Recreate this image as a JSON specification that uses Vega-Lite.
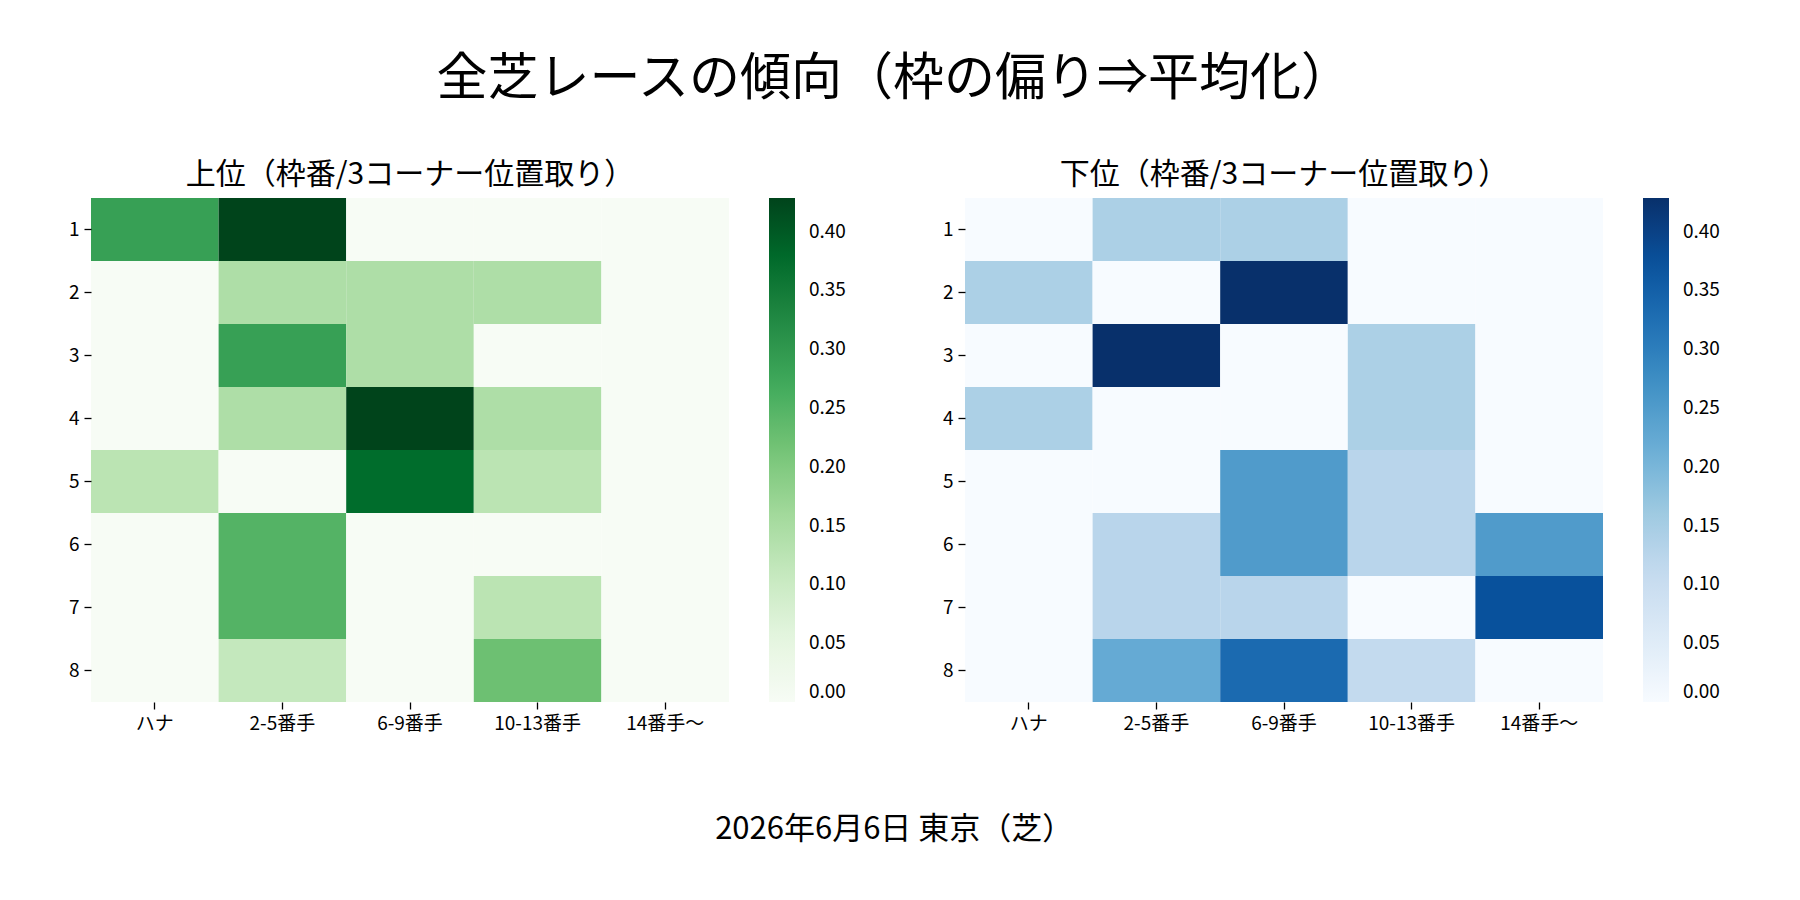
{
  "$schema": "https://vega.github.io/schema/vega-lite/v6.json",
  "background": "white",
  "padding": {"left": 68, "top": 54, "right": 10, "bottom": 10},
  "config": {
    "font": "Noto Sans CJK JP",
    "view": {"stroke": null},
    "title": {"color": "#000", "fontWeight": "normal", "font": "Noto Sans CJK JP"},
    "axis": {"labelFontSize": 19, "labelColor": "#000", "tickColor": "#000", "tickSize": 7, "tickWidth": 1.3, "domain": false, "labelPadding": 5, "title": null, "labelFont": "Noto Sans CJK JP"},
    "legend": {"labelFontSize": 19, "labelColor": "#000", "labelFont": "Noto Sans CJK JP"}
  },
  "datasets": {
    "upper": [
      {"waku": 1, "pos": "ハナ", "value": 0.2857}, {"waku": 1, "pos": "2-5番手", "value": 0.4286}, {"waku": 1, "pos": "6-9番手", "value": 0}, {"waku": 1, "pos": "10-13番手", "value": 0}, {"waku": 1, "pos": "14番手〜", "value": 0},
      {"waku": 2, "pos": "ハナ", "value": 0}, {"waku": 2, "pos": "2-5番手", "value": 0.1429}, {"waku": 2, "pos": "6-9番手", "value": 0.1429}, {"waku": 2, "pos": "10-13番手", "value": 0.1429}, {"waku": 2, "pos": "14番手〜", "value": 0},
      {"waku": 3, "pos": "ハナ", "value": 0}, {"waku": 3, "pos": "2-5番手", "value": 0.2857}, {"waku": 3, "pos": "6-9番手", "value": 0.1429}, {"waku": 3, "pos": "10-13番手", "value": 0}, {"waku": 3, "pos": "14番手〜", "value": 0},
      {"waku": 4, "pos": "ハナ", "value": 0}, {"waku": 4, "pos": "2-5番手", "value": 0.1429}, {"waku": 4, "pos": "6-9番手", "value": 0.4286}, {"waku": 4, "pos": "10-13番手", "value": 0.1429}, {"waku": 4, "pos": "14番手〜", "value": 0},
      {"waku": 5, "pos": "ハナ", "value": 0.125}, {"waku": 5, "pos": "2-5番手", "value": 0}, {"waku": 5, "pos": "6-9番手", "value": 0.375}, {"waku": 5, "pos": "10-13番手", "value": 0.125}, {"waku": 5, "pos": "14番手〜", "value": 0},
      {"waku": 6, "pos": "ハナ", "value": 0}, {"waku": 6, "pos": "2-5番手", "value": 0.25}, {"waku": 6, "pos": "6-9番手", "value": 0}, {"waku": 6, "pos": "10-13番手", "value": 0}, {"waku": 6, "pos": "14番手〜", "value": 0},
      {"waku": 7, "pos": "ハナ", "value": 0}, {"waku": 7, "pos": "2-5番手", "value": 0.25}, {"waku": 7, "pos": "6-9番手", "value": 0}, {"waku": 7, "pos": "10-13番手", "value": 0.125}, {"waku": 7, "pos": "14番手〜", "value": 0},
      {"waku": 8, "pos": "ハナ", "value": 0}, {"waku": 8, "pos": "2-5番手", "value": 0.1111}, {"waku": 8, "pos": "6-9番手", "value": 0}, {"waku": 8, "pos": "10-13番手", "value": 0.2222}, {"waku": 8, "pos": "14番手〜", "value": 0}
    ],
    "lower": [
      {"waku": 1, "pos": "ハナ", "value": 0}, {"waku": 1, "pos": "2-5番手", "value": 0.1429}, {"waku": 1, "pos": "6-9番手", "value": 0.1429}, {"waku": 1, "pos": "10-13番手", "value": 0}, {"waku": 1, "pos": "14番手〜", "value": 0},
      {"waku": 2, "pos": "ハナ", "value": 0.1429}, {"waku": 2, "pos": "2-5番手", "value": 0}, {"waku": 2, "pos": "6-9番手", "value": 0.4286}, {"waku": 2, "pos": "10-13番手", "value": 0}, {"waku": 2, "pos": "14番手〜", "value": 0},
      {"waku": 3, "pos": "ハナ", "value": 0}, {"waku": 3, "pos": "2-5番手", "value": 0.4286}, {"waku": 3, "pos": "6-9番手", "value": 0}, {"waku": 3, "pos": "10-13番手", "value": 0.1429}, {"waku": 3, "pos": "14番手〜", "value": 0},
      {"waku": 4, "pos": "ハナ", "value": 0.1429}, {"waku": 4, "pos": "2-5番手", "value": 0}, {"waku": 4, "pos": "6-9番手", "value": 0}, {"waku": 4, "pos": "10-13番手", "value": 0.1429}, {"waku": 4, "pos": "14番手〜", "value": 0},
      {"waku": 5, "pos": "ハナ", "value": 0}, {"waku": 5, "pos": "2-5番手", "value": 0}, {"waku": 5, "pos": "6-9番手", "value": 0.25}, {"waku": 5, "pos": "10-13番手", "value": 0.125}, {"waku": 5, "pos": "14番手〜", "value": 0},
      {"waku": 6, "pos": "ハナ", "value": 0}, {"waku": 6, "pos": "2-5番手", "value": 0.125}, {"waku": 6, "pos": "6-9番手", "value": 0.25}, {"waku": 6, "pos": "10-13番手", "value": 0.125}, {"waku": 6, "pos": "14番手〜", "value": 0.25},
      {"waku": 7, "pos": "ハナ", "value": 0}, {"waku": 7, "pos": "2-5番手", "value": 0.125}, {"waku": 7, "pos": "6-9番手", "value": 0.125}, {"waku": 7, "pos": "10-13番手", "value": 0}, {"waku": 7, "pos": "14番手〜", "value": 0.375},
      {"waku": 8, "pos": "ハナ", "value": 0}, {"waku": 8, "pos": "2-5番手", "value": 0.2222}, {"waku": 8, "pos": "6-9番手", "value": 0.3333}, {"waku": 8, "pos": "10-13番手", "value": 0.1111}, {"waku": 8, "pos": "14番手〜", "value": 0}
    ]
  },
  "title": {"text": "全芝レースの傾向（枠の偏り⇒平均化）", "fontSize": 51, "offset": 54, "anchor": "middle"},
  "vconcat": [
    {
      "title": {"text": "2026年6月6日 東京（芝）", "orient": "bottom", "fontSize": 31, "offset": 82, "anchor": "middle"},
      "spacing": 96,
      "resolve": {"scale": {"color": "independent"}},
      "hconcat": [
        {
          "data": {"name": "upper"},
          "title": {"text": "上位（枠番/3コーナー位置取り）", "fontSize": 30, "offset": 8},
          "width": 638,
          "height": 504,
          "mark": {"type": "rect", "strokeWidth": 0},
          "encoding": {
            "x": {"field": "pos", "type": "ordinal", "sort": ["ハナ", "2-5番手", "6-9番手", "10-13番手", "14番手〜"], "axis": {"labelAngle": 0}},
            "y": {"field": "waku", "type": "ordinal", "sort": "ascending"},
            "color": {
              "field": "value", "type": "quantitative",
              "scale": {"domain": [0, 0.053571, 0.107143, 0.160714, 0.214286, 0.267857, 0.321429, 0.375, 0.428571], "range": ["#f7fcf5", "#e5f5e0", "#c7e9c0", "#a1d99b", "#74c476", "#41ab5d", "#238b45", "#006d2c", "#00441b"]},
              "legend": {"title": null, "orient": "right", "offset": 40, "gradientLength": 504, "gradientThickness": 26, "values": [0, 0.05, 0.1, 0.15, 0.2, 0.25, 0.3, 0.35, 0.4], "format": ".2f", "labelOffset": 14, "gradientStrokeWidth": 0}
            }
          }
        },
        {
          "data": {"name": "lower"},
          "title": {"text": "下位（枠番/3コーナー位置取り）", "fontSize": 30, "offset": 8},
          "width": 638,
          "height": 504,
          "mark": {"type": "rect", "strokeWidth": 0},
          "encoding": {
            "x": {"field": "pos", "type": "ordinal", "sort": ["ハナ", "2-5番手", "6-9番手", "10-13番手", "14番手〜"], "axis": {"labelAngle": 0}},
            "y": {"field": "waku", "type": "ordinal", "sort": "ascending"},
            "color": {
              "field": "value", "type": "quantitative",
              "scale": {"domain": [0, 0.053571, 0.107143, 0.160714, 0.214286, 0.267857, 0.321429, 0.375, 0.428571], "range": ["#f7fbff", "#deebf7", "#c6dbef", "#9ecae1", "#6baed6", "#4292c6", "#2171b5", "#08519c", "#08306b"]},
              "legend": {"title": null, "orient": "right", "offset": 40, "gradientLength": 504, "gradientThickness": 26, "values": [0, 0.05, 0.1, 0.15, 0.2, 0.25, 0.3, 0.35, 0.4], "format": ".2f", "labelOffset": 14, "gradientStrokeWidth": 0}
            }
          }
        }
      ]
    }
  ]
}
